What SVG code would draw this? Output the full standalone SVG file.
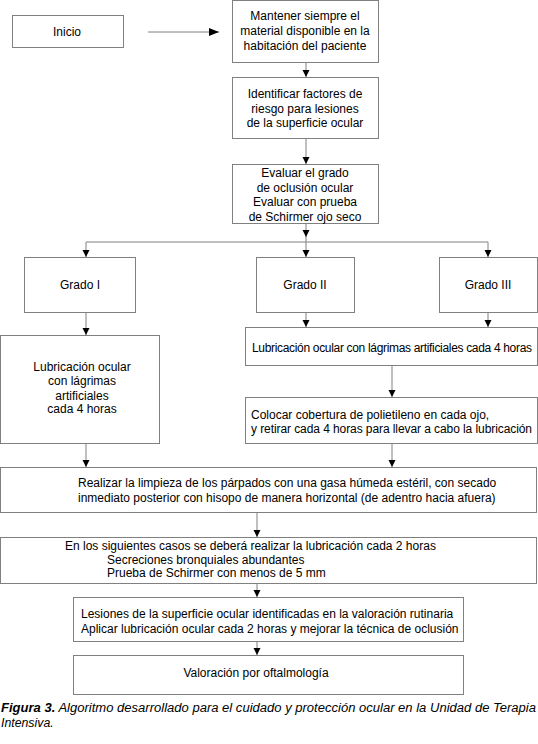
<svg xmlns="http://www.w3.org/2000/svg" width="538" height="744" viewBox="0 0 538 744">
<defs>
<marker id="ah" markerUnits="userSpaceOnUse" markerWidth="10" markerHeight="10" viewBox="0 0 10 10" refX="10" refY="5" orient="auto">
<path d="M0,1 L10,5 L0,9 Z" fill="#000"/>
</marker>
<marker id="av" markerUnits="userSpaceOnUse" markerWidth="7" markerHeight="8" viewBox="0 0 7 8" refX="7" refY="4" orient="auto">
<path d="M0,0.5 L7,4 L0,7.5 Z" fill="#000"/>
</marker>
<style>
.box{fill:#fff;stroke:#808080;stroke-width:1}
.t{font-family:"Liberation Sans",Arial,sans-serif;font-size:12px;fill:#000}
.c{text-anchor:middle}
.ln{stroke:#808080;stroke-width:1;fill:none}
.cap{font-family:"Liberation Sans",Arial,sans-serif;font-size:12.3px;font-style:italic;fill:#000}
</style>
</defs>
<rect width="538" height="744" fill="#fff"/>
<g id="connectors">
<line class="ln" x1="148" y1="32" x2="219" y2="32" marker-end="url(#ah)"/>
<line class="ln" x1="306" y1="62" x2="306" y2="77" marker-end="url(#av)"/>
<line class="ln" x1="306" y1="139" x2="306" y2="164" marker-end="url(#av)"/>
<line class="ln" x1="306" y1="223" x2="306" y2="237" marker-end="url(#av)"/>
<line class="ln" x1="306" y1="236" x2="306" y2="242"/>
<line class="ln" x1="86" y1="242" x2="488" y2="242"/>
<line class="ln" x1="86" y1="242" x2="86" y2="257" marker-end="url(#av)"/>
<line class="ln" x1="306" y1="242" x2="306" y2="257" marker-end="url(#av)"/>
<line class="ln" x1="488" y1="242" x2="488" y2="257" marker-end="url(#av)"/>
<line class="ln" x1="86" y1="312" x2="86" y2="335" marker-end="url(#av)"/>
<line class="ln" x1="306" y1="312" x2="306" y2="327" marker-end="url(#av)"/>
<line class="ln" x1="488" y1="312" x2="488" y2="327" marker-end="url(#av)"/>
<line class="ln" x1="392" y1="365" x2="392" y2="397" marker-end="url(#av)"/>
<line class="ln" x1="86" y1="443" x2="86" y2="467" marker-end="url(#av)"/>
<line class="ln" x1="392" y1="443" x2="392" y2="467" marker-end="url(#av)"/>
<line class="ln" x1="257" y1="512" x2="257" y2="537" marker-end="url(#av)"/>
<line class="ln" x1="257" y1="583" x2="257" y2="597" marker-end="url(#av)"/>
<line class="ln" x1="257" y1="641" x2="257" y2="655" marker-end="url(#av)"/>
</g>
<g id="inicio">
<rect class="box" x="12.5" y="15.5" width="111" height="32"/>
<text class="t c" x="67" y="36">Inicio</text>
</g>
<g id="mantener">
<rect class="box" x="232.5" y="0.5" width="146" height="62"/>
<text class="t c" x="305" y="20">Mantener siempre el</text>
<text class="t c" x="305" y="35">material disponible en la</text>
<text class="t c" x="305" y="50">habitación del paciente</text>
</g>
<g id="identificar">
<rect class="box" x="232.5" y="77.5" width="146" height="61"/>
<text class="t c" x="305" y="98">Identificar factores de</text>
<text class="t c" x="305" y="112.5">riesgo para lesiones</text>
<text class="t c" x="305" y="127">de la superficie ocular</text>
</g>
<g id="evaluar">
<rect class="box" x="232.5" y="164.5" width="146" height="59"/>
<text class="t c" x="305" y="177">Evaluar el grado</text>
<text class="t c" x="305" y="191.5">de oclusión ocular</text>
<text class="t c" x="305" y="206">Evaluar con prueba</text>
<text class="t c" x="305" y="220.5">de Schirmer ojo seco</text>
</g>
<g id="grado1">
<rect class="box" x="24.5" y="257.5" width="111" height="55"/>
<text class="t c" x="80" y="289">Grado I</text>
</g>
<g id="grado2">
<rect class="box" x="256.5" y="257.5" width="98" height="55"/>
<text class="t c" x="305" y="289">Grado II</text>
</g>
<g id="grado3">
<rect class="box" x="439.5" y="257.5" width="98" height="55"/>
<text class="t c" x="488" y="289">Grado III</text>
</g>
<g id="lub1">
<rect class="box" x="0.5" y="335.5" width="159" height="108"/>
<text class="t c" x="82" y="371">Lubricación ocular</text>
<text class="t c" x="82" y="385">con lágrimas</text>
<text class="t c" x="82" y="399.5">artificiales</text>
<text class="t c" x="82" y="413">cada 4 horas</text>
</g>
<g id="lub2">
<rect class="box" x="245.5" y="327.5" width="292" height="38"/>
<text class="t" x="252" y="352" textLength="280">Lubricación ocular con lágrimas artificiales cada 4 horas</text>
</g>
<g id="colocar">
<rect class="box" x="245.5" y="397.5" width="292" height="46"/>
<text class="t" x="251" y="419">Colocar cobertura de polietileno en cada ojo,</text>
<text class="t" x="251" y="433" textLength="281">y retirar cada 4 horas para llevar a cabo la lubricación</text>
</g>
<g id="realizar">
<rect class="box" x="0.5" y="467.5" width="536" height="45"/>
<text class="t" x="78" y="487">Realizar la limpieza de los párpados con una gasa húmeda estéril, con secado</text>
<text class="t" x="78" y="502">inmediato posterior con hisopo de manera horizontal (de adentro hacia afuera)</text>
</g>
<g id="casos">
<rect class="box" x="0.5" y="537.5" width="536" height="46"/>
<text class="t" x="65" y="550">En los siguientes casos se deberá realizar la lubricación cada 2 horas</text>
<text class="t" x="107" y="563.5">Secreciones bronquiales abundantes</text>
<text class="t" x="107" y="577">Prueba de Schirmer con menos de 5 mm</text>
</g>
<g id="lesiones">
<rect class="box" x="73.5" y="597.5" width="390" height="44"/>
<text class="t" x="81" y="618">Lesiones de la superficie ocular identificadas en la valoración rutinaria</text>
<text class="t" x="81" y="633">Aplicar lubricación ocular cada 2 horas y mejorar la técnica de oclusión</text>
</g>
<g id="valoracion">
<rect class="box" x="73.5" y="655.5" width="390" height="39"/>
<text class="t c" x="256" y="677">Valoración por oftalmología</text>
</g>
<g id="caption">
<text class="cap" x="1" y="712" textLength="535" lengthAdjust="spacingAndGlyphs"><tspan font-weight="bold">Figura 3.</tspan> Algoritmo desarrollado para el cuidado y protección ocular en la Unidad de Terapia</text>
<text class="cap" x="1" y="727">Intensiva.</text>
</g>
</svg>
